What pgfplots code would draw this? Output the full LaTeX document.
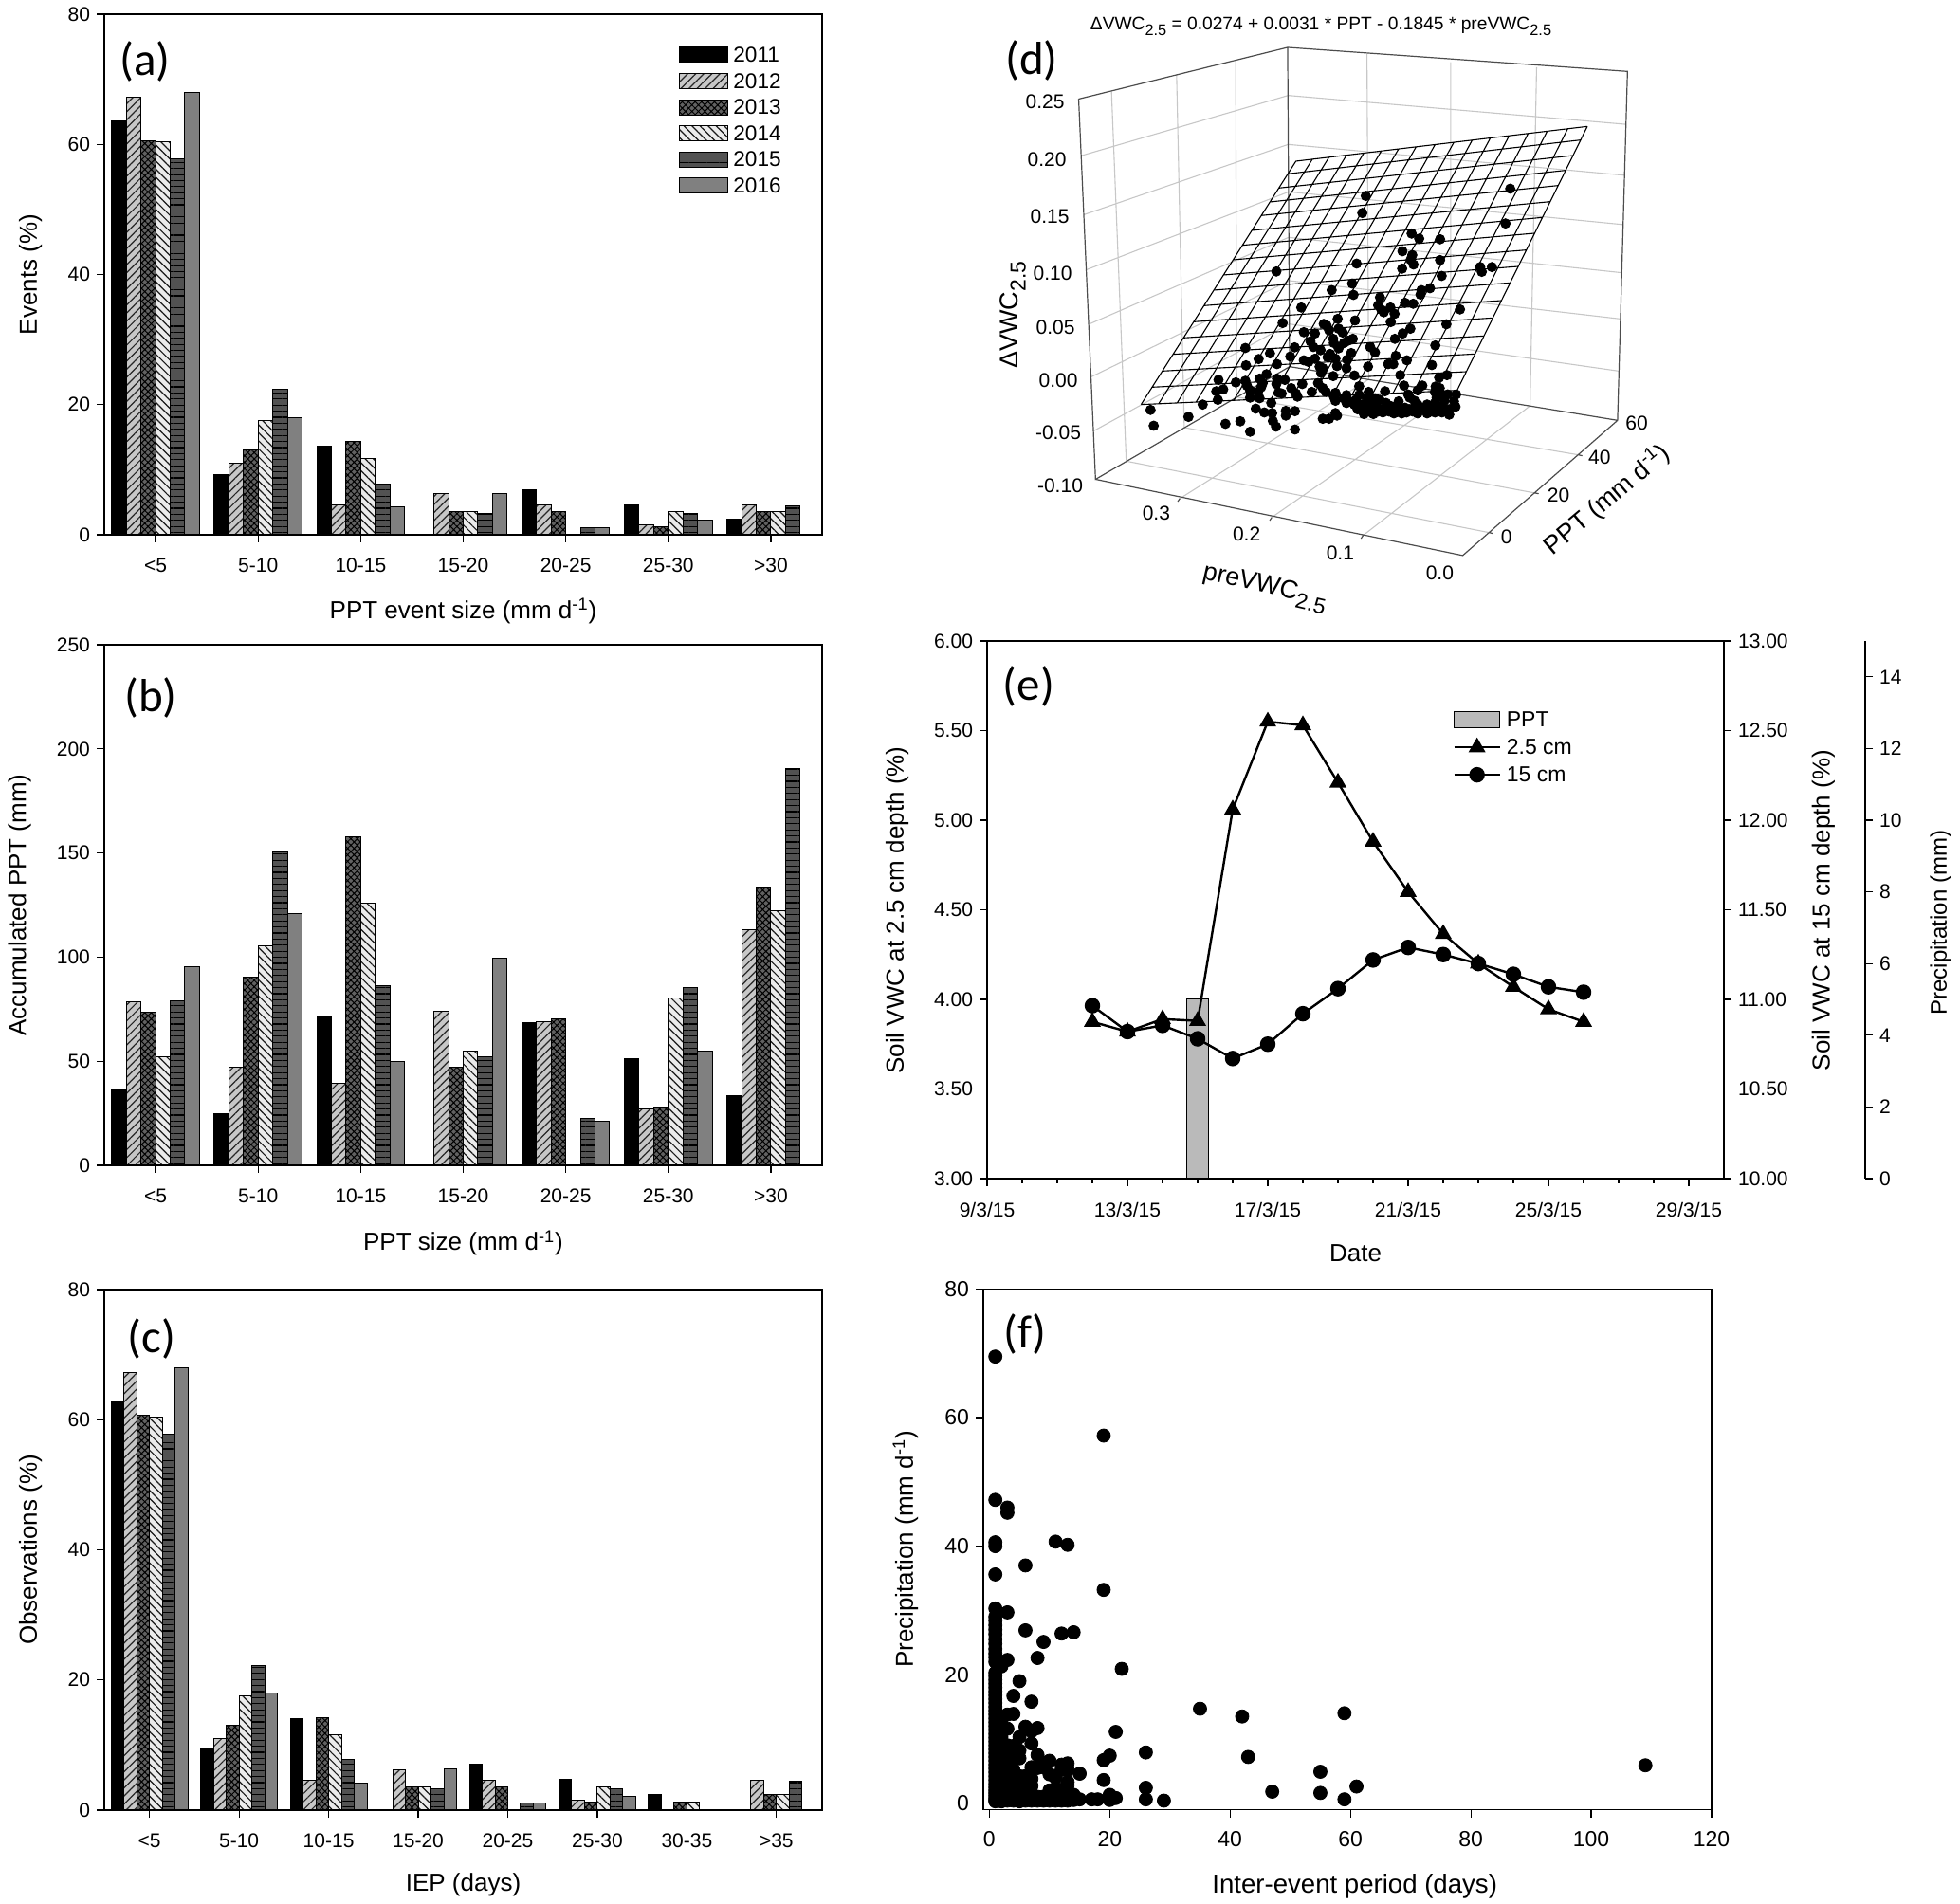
\documentclass[border=0pt]{standalone}
\usepackage{fontspec}
\setmainfont{Liberation Sans}
\newfontfamily\lab{Carlito}
\usepackage{pgfplots}
\pgfplotsset{compat=1.18}
\usetikzlibrary{patterns.meta}
\newcommand\lsub[1]{\raisebox{-.3em}{\scalebox{.85}{#1}}}
\newcommand\fs[1]{\fontsize{#1}{#1}\selectfont}
\tikzset{
 s11/.style={draw=black,fill=black},
 s12/.style={draw=black,fill=black!22,postaction={pattern={Lines[angle=45,distance=3pt,line width=.6pt]},pattern color=black!85}},
 s13/.style={draw=black,fill=black!62,postaction={pattern={Hatch[angle=45,distance=2.4pt,line width=.5pt]},pattern color=black}},
 s14/.style={draw=black,fill=black!8,postaction={pattern={Lines[angle=-45,distance=3pt,line width=.6pt]},pattern color=black!90}},
 s15/.style={draw=black,fill=black!68,postaction={pattern={Lines[angle=0,distance=3.2pt,line width=.6pt]},pattern color=black}},
 s16/.style={draw=black,fill=black!50},
}
\pgfplotsset{
 base/.style={scale only axis,clip=false,axis line style={line width=.75pt},
  tick style={black,line width=.6pt},major tick length=4pt,minor tick length=2.5pt,tick align=outside,
  xtick pos=bottom,ytick pos=left,
  /pgf/number format/assume math mode=true,
  tick label style={font=\fs{10.5}},
  label style={font=\fs{13}}},
 barax/.style={base,width=378.5pt,height=274.5pt,ymin=0,ybar=0pt,bar width=0.1428,
  every axis plot/.append style={line width=.5pt},
  xticklabel style={yshift=-5pt},
  xtick style={},ymajorgrids=false},
}
\begin{document}
\begin{tikzpicture}
\path[use as bounding box] (0,0) rectangle (1033.5pt,1004pt);
% ---------- (a)
\begin{axis}[barax,at={(55pt,722pt)},anchor=south west,xmin=-.5,xmax=6.5,ymax=80,
 xtick={0,...,6},xticklabels={<5,5-10,10-15,15-20,20-25,25-30,>30},ytick={0,20,...,80},
 ylabel={Events (\%)},xlabel={PPT event size (mm d\textsuperscript{-1})},
 xlabel style={at={(axis description cs:.5,-.1465)},anchor=center},
 ylabel style={at={(axis description cs:-.103,.5)},anchor=center},
 legend cell align=left,
 legend image code/.code={\draw[#1] (0pt,-4pt) rectangle (25.5pt,4pt);\path (27pt,0pt);},
 legend style={draw=none,fill=none,inner sep=0pt,at={(.8005,.94)},anchor=north west,font=\fs{11.3},row sep=4.2pt,
  nodes={inner sep=1pt,text height=7.6pt,text depth=0pt}}]
\addplot[s11] coordinates {(0,63.6)(1,9.2)(2,13.6)(4,6.85)(5,4.6)(6,2.4)};
\addplot[s12] coordinates {(0,67.2)(1,10.95)(2,4.65)(3,6.3)(4,4.65)(5,1.6)(6,4.65)};
\addplot[s13] coordinates {(0,60.6)(1,13.1)(2,14.4)(3,3.55)(4,3.55)(5,1.2)(6,3.55)};
\addplot[s14] coordinates {(0,60.4)(1,17.5)(2,11.7)(3,3.5)(5,3.55)(6,3.5)};
\addplot[s15] coordinates {(0,57.8)(1,22.3)(2,7.8)(3,3.3)(4,1.15)(5,3.3)(6,4.5)};
\addplot[s16] coordinates {(0,68)(1,18)(2,4.3)(3,6.4)(4,1.1)(5,2.2)};
\legend{2011,2012,2013,2014,2015,2016}
\end{axis}
% ---------- (b)
\begin{axis}[barax,at={(55pt,389.5pt)},anchor=south west,xmin=-.5,xmax=6.5,ymax=250,
 xtick={0,...,6},xticklabels={<5,5-10,10-15,15-20,20-25,25-30,>30},ytick={0,50,...,250},
 ylabel={Accumulated PPT (mm)},xlabel={PPT size (mm d\textsuperscript{-1})},
 xlabel style={at={(axis description cs:.5,-.149)},anchor=center},
 ylabel style={at={(axis description cs:-.118,.5)},anchor=center}]
\addplot[s11] coordinates {(0,36.8)(1,25)(2,71.9)(4,68.4)(5,51)(6,33.3)};
\addplot[s12] coordinates {(0,78.6)(1,46.9)(2,39.4)(3,74)(4,68.8)(5,27.2)(6,113)};
\addplot[s13] coordinates {(0,73.5)(1,90.4)(2,157.8)(3,46.9)(4,70.5)(5,28.2)(6,133.8)};
\addplot[s14] coordinates {(0,52.2)(1,105.4)(2,126)(3,54.8)(5,80.2)(6,122.3)};
\addplot[s15] coordinates {(0,78.8)(1,150.5)(2,86.3)(3,52)(4,22.7)(5,85.3)(6,190.5)};
\addplot[s16] coordinates {(0,95.2)(1,120.8)(2,49.8)(3,99.3)(4,21.3)(5,55)};
\end{axis}
% ---------- (c)
\begin{axis}[barax,at={(55pt,49.5pt)},anchor=south west,xmin=-.505,xmax=7.51,ymax=80,
 xtick={0,...,7},xticklabels={<5,5-10,10-15,15-20,20-25,25-30,30-35,>35},ytick={0,20,...,80},
 ylabel={Observations (\%)},xlabel={IEP (days)},
 xlabel style={at={(axis description cs:.5,-.143)},anchor=center},
 ylabel style={at={(axis description cs:-.103,.5)},anchor=center}]
\addplot[s11] coordinates {(0,62.8)(1,9.4)(2,14)(4,7)(5,4.7)(6,2.35)};
\addplot[s12] coordinates {(0,67.2)(1,11)(2,4.65)(3,6.25)(4,4.65)(5,1.55)(7,4.65)};
\addplot[s13] coordinates {(0,60.7)(1,13.1)(2,14.25)(3,3.6)(4,3.6)(5,1.25)(6,1.25)(7,2.35)};
\addplot[s14] coordinates {(0,60.4)(1,17.5)(2,11.6)(3,3.5)(5,3.55)(6,1.25)(7,2.35)};
\addplot[s15] coordinates {(0,57.8)(1,22.2)(2,7.8)(3,3.35)(4,1.15)(5,3.35)(7,4.45)};
\addplot[s16] coordinates {(0,68)(1,18)(2,4.2)(3,6.4)(4,1.05)(5,2.15)};
\end{axis}
% ---------- (d) drawn in a flat axis whose units are thirds of a picture pixel
\begin{axis}[scale only axis,hide axis,clip=false,at={(550pt,764pt)},anchor=south west,width=250pt,height=175pt,
 xmin=0,xmax=1500,ymin=0,ymax=1050,y dir=reverse,unbounded coords=jump]
\addplot[black!22,line width=.55pt] coordinates {
 (123,102)(775.5,-88)(1843.6,3.4)(nan,nan)
 (130,289)(775.5,67)(1840,164.6)(nan,nan)
 (138.5,463)(777,217)(1835,320.6)(nan,nan)
 (147,635)(777,361)(1831.5,473)(nan,nan)
 (150.7,803)(779,498)(1826,619)(nan,nan)
 (159,974)(779,635)(1821,784)(nan,nan)
 (216.4,-103.2)(263,1069)(1410.8,1295)(nan,nan)
 (422.4,-155)(446.7,962.8)(1554.5,1169.6)(nan,nan)
 (609.4,-201)(612.8,866)(1693,1049)(nan,nan)
 (1024.8,-218.7)(1030,810.5)(432.8,1187.4)(nan,nan)
 (1289.7,-193)(1289.7,853.6)(723.6,1247)(nan,nan)
 (1561.4,-177)(1540.7,894)(1012.7,1304)(nan,nan)
};
\addplot[black!70,line width=.6pt] coordinates {
 (112.6,-76.6)(166,1126.5)(780,770)(1817.6,940)(1849,-164)(773.8,-240)(112.6,-76.6)(nan,nan)
 (773.8,-240)(780,770)(nan,nan)
 (166,1126.5)(1327.7,1367.6)(1817.6,940)(nan,nan)
 (432.8,1187.4)(426,1197)(nan,nan)(723.6,1247)(717,1257)(nan,nan)(1012.7,1304)(1006,1314)(nan,nan)
 (1410.8,1295)(1424,1298)(nan,nan)(1554.5,1169.6)(1568,1172)(nan,nan)(1693,1049)(1706,1052)(nan,nan)
};
\addplot[black,line width=.55pt] coordinates {
 (800,120)(1722,10)(nan,nan)(774.5,160)(1701,53)(nan,nan)(746,205)(1677,102)(nan,nan)(718,249)(1653,149)(nan,nan)
 (690,292)(1630,197)(nan,nan)(660,339)(1605,248)(nan,nan)(631,386)(1580,298)(nan,nan)(602,432)(1555,348)(nan,nan)
 (571,480)(1529,401)(nan,nan)(540,528)(1504,453)(nan,nan)(509,577)(1478,505)(nan,nan)(477,628)(1450,561)(nan,nan)
 (444,679)(1423,616)(nan,nan)(411,731)(1395,673)(nan,nan)(378,784)(1367,730)(nan,nan)(345,835)(1339,786)(nan,nan)
 (310,890)(1310,845)(nan,nan)
 (800,120)(310,890)(nan,nan)(852,114)(366,887)(nan,nan)(905,107)(424,885)(nan,nan)(960,101)(484,882)(nan,nan)
 (1015,94)(543,880)(nan,nan)(1070,88)(603,877)(nan,nan)(1125,81)(662,874)(nan,nan)(1180,75)(722,871)(nan,nan)
 (1240,68)(787,869)(nan,nan)(1300,60)(852,866)(nan,nan)(1358,53)(915,863)(nan,nan)(1415,47)(977,860)(nan,nan)
 (1475,39)(1042,857)(nan,nan)(1535,32)(1107,854)(nan,nan)(1595,25)(1172,851)(nan,nan)(1660,17)(1243,848)(nan,nan)
 (1722,10)(1310,845)(nan,nan)
};
\addplot[only marks,mark=*,mark size=2.5pt,black] coordinates {
(1478,207)(1463,317)(1383,455)(1388,470)(1420,455)(1021,230)(1010,284)(1166,349)(1190,365)(1256,367)(1137,405)(1168,417)
(1163,432)(1256,433)(1172,447)(1136,460)(992,444)(738,469)(1261,483)(978,507)(913,528)(1224,522)(1197,528)(1194,542)
(982,543)(1066,551)(1060,576)(1145,568)(1171,571)(1099,583)(817,583)(1070,590)(1078,598)(1112,603)(1319,589)(758,632)
(1100,629)(987,624)(932,619)(1276,636)(1162,650)(1138,665)(888,635)(897,640)(905,655)(935,650)(948,662)(825,661)
(860,665)(918,682)(980,682)(965,688)(952,695)(1113,682)(846,690)(855,708)(920,695)(935,712)(1241,703)(1035,708)
(1050,725)(640,711)(796,709)(878,718)(975,727)(718,728)(908,730)(900,740)(925,745)(682,746)(782,738)(1116,736)
(860,745)(825,750)(840,755)(962,748)(1151,750)(740,762)(642,766)(875,770)(885,775)(930,768)(960,775)(1028,770)
(1092,762)(1108,762)(1230,765)(880,790)(707,794)(918,800)(985,798)(1130,797)(1253,805)(1278,797)(555,812)(610,820)
(640,815)(685,808)(740,808)(765,812)(1000,832)(1142,830)(1200,830)(1242,833)(548,848)(570,842)(645,830)(695,822)
(655,845)(690,835)(738,825)(785,838)(820,825)(870,822)(885,838)(850,850)(895,850)(925,853)(960,860)(800,855)
(745,852)(755,855)(680,850)(1030,850)(1082,848)(1155,858)(1185,845)(1245,850)(1280,858)(1307,858)(553,875)(655,868)
(685,870)(505,890)(805,865)(925,878)(970,880)(1000,860)(1025,870)(1065,875)(1160,868)(1175,878)(1215,890)(1245,868)
(1270,878)(722,885)(985,890)(1010,890)(1045,885)(1085,885)(1125,880)(1100,895)(1185,890)(1240,885)(1305,897)(673,903)
(340,907)(995,905)(1020,905)(1040,905)(1070,905)(1110,905)(1130,910)(1160,905)(1185,905)(1215,905)(1240,905)(1285,905)
(700,915)(725,917)(768,910)(797,911)(460,929)(925,917)(1015,920)(1045,920)(1075,915)(1110,918)(1135,918)(1185,918)
(1215,918)(1240,915)(1285,922)(768,925)(885,935)(905,935)(930,925)(727,942)(624,943)(577,951)(350,957)(737,960)
(655,976)(797,969)
(1005,897)(1030,897)(1055,897)(1090,905)(1120,900)(1145,900)(1175,900)(1205,900)(1225,897)(1260,895)(1270,905)(1300,880)
(1030,912)(1060,912)(1095,912)(1150,915)(1170,912)(1230,912)(1262,915)(960,885)(950,870)(990,875)(1050,870)(1240,850)
(1255,838)(1265,860)(920,865)};
\end{axis}
% ---------- (e)
\begin{axis}[base,at={(520.5pt,382.5pt)},anchor=south west,width=463pt,height=283.5pt,xmin=9,xmax=34.02,ymin=0,ymax=15,
 axis x line=none,axis y line*=right,ytick pos=right,ytick={0,2,...,14},ybar,bar width=.6,
 ylabel={Precipitation (mm)},
 ylabel style={at={(axis description cs:1.086,.476)},anchor=center,font=\fs{12}}]
\addplot[draw=black,fill=black!27,line width=.5pt] coordinates {(15,5)};
\end{axis}
\begin{axis}[base,at={(520.5pt,382.5pt)},anchor=south west,width=388.5pt,height=283.5pt,xmin=9,xmax=30,ymin=3,ymax=6,
 xtick={9,13,17,21,25,29},xticklabels={9/3/15,13/3/15,17/3/15,21/3/15,25/3/15,29/3/15},minor x tick num=3,
 ytick={3,3.5,...,6},yticklabel style={/pgf/number format/.cd,fixed,fixed zerofill,precision=2},
 xticklabel style={yshift=-5pt},
 xlabel={Date},ylabel={Soil VWC at 2.5 cm depth (\%)},
 xlabel style={at={(axis description cs:.5,-.139)},anchor=center},
 ylabel style={at={(axis description cs:-.122,.499)},anchor=center}]
\addplot[black,line width=1.2pt,mark=triangle*,mark size=4pt] coordinates {
(12,3.875)(13,3.82)(14,3.89)(15,3.88)(16,5.06)(17,5.55)(18,5.53)(19,5.21)(20,4.88)(21,4.60)(22,4.365)(23,4.20)(24,4.07)(25,3.945)(26,3.875)};
\end{axis}
\begin{axis}[base,at={(520.5pt,382.5pt)},anchor=south west,width=388.5pt,height=283.5pt,xmin=9,xmax=30,ymin=10,ymax=13,
 axis x line=none,axis y line*=right,ytick pos=right,ytick={10,10.5,...,13},
 yticklabel style={/pgf/number format/.cd,fixed,fixed zerofill,precision=2},
 ylabel={Soil VWC at 15 cm depth (\%)},
 ylabel style={at={(axis description cs:1.135,.499)},anchor=center},
 legend cell align=left,
 legend image code/.code={\draw[#1,mark repeat=2,mark phase=2] plot coordinates {(0pt,0pt)(12pt,0pt)(24pt,0pt)};\path (26pt,0pt);},
 legend style={draw=none,fill=none,inner sep=0pt,at={(.632,.871)},anchor=north west,font=\fs{11.5},row sep=4.9pt,
  nodes={inner sep=1pt,text height=7.6pt,text depth=0pt}}]
\addlegendimage{legend image code/.code={\draw[draw=black,fill=black!27,line width=.5pt] (0pt,-4pt) rectangle (24pt,4.5pt);\path (26pt,0pt);}}
\addlegendentry{PPT}
\addlegendimage{black,line width=1.2pt,mark=triangle*,mark size=4pt}
\addlegendentry{2.5 cm}
\addplot[black,line width=1.2pt,mark=*,mark size=3.5pt] coordinates {
(12,10.965)(13,10.82)(14,10.855)(15,10.78)(16,10.67)(17,10.75)(18,10.92)(19,11.06)(20,11.22)(21,11.29)(22,11.25)(23,11.2)(24,11.14)(25,11.07)(26,11.04)};
\addlegendentry{15 cm}
\end{axis}
% ---------- (f)
\begin{axis}[base,at={(518.5pt,49.75pt)},anchor=south west,width=384pt,height=274.5pt,xmin=-1,xmax=120,ymin=-1,ymax=80,
 xtick={0,20,...,120},ytick={0,20,...,80},tick label style={font=\fs{11.5}},
 xticklabel style={yshift=-4pt},
 xlabel={Inter-event period (days)},ylabel={Precipitation (mm d\textsuperscript{-1})},
 xlabel style={at={(axis description cs:.51,-.147)},anchor=center,font=\fs{13.8}},
 ylabel style={at={(axis description cs:-.107,.5)},anchor=center}]
\addplot[only marks,mark=*,mark size=3.5pt,black] coordinates {
(1,.3)(1,.5)(1,.8)(1,1.2)(1,1.6)(1,2)(1,2.5)(1,3)(1,3.6)(1,4.2)(1,4.8)(1,5.4)(1,6)(1,6.6)(1,7.2)(1,7.8)(1,8.4)(1,9)(1,9.6)
(1,10.2)(1,10.8)(1,11.4)(1,12)(1,12.6)(1,13.2)(1,13.8)(1,14.4)(1,15)(1,15.6)(1,16.2)(1,16.8)(1,17.4)(1,18)(1,18.6)(1,19.2)(1,19.8)
(1,20.3)(1,22)(1,22.7)(1,23.3)(1,24)(1,24.8)(1,25.5)(1,26.3)(1,27)(1,27.7)(1,28.4)(1,29)(1,30.3)(1,35.6)(1,40)(1,40.6)(1,47.2)(1,69.5)
(2,.3)(2,.8)(2,1.3)(2,2)(2,2.8)(2,3.5)(2,4.3)(2,5)(2,5.8)(2,6.6)(2,7.3)(2,8)(2,8.8)(2,9.5)(2,10.3)(2,11)(2,12)(2,13)(2,21.3)
(3,.4)(3,1)(3,1.8)(3,2.6)(3,3.4)(3,4.2)(3,5)(3,5.8)(3,6.5)(3,7.2)(3,8)(3,9)(3,11.6)(3,13.8)(3,22.3)(3,29.7)(3,45.2)(3,46)
(4,.4)(4,1)(4,2)(4,3)(4,4)(4,5.2)(4,7)(4,8.9)(4,13.9)(4,16.7)
(5,.3)(5,1)(5,2)(5,3)(5,4.2)(5,7)(5,8.2)(5,10.3)(5,19)
(6,.4)(6,1.2)(6,2.3)(6,3.6)(6,4.2)(6,11.9)(6,26.9)(6,37)
(7,.4)(7,1.5)(7,2.7)(7,3.8)(7,5.6)(7,9.3)(7,11.2)(7,15.8)
(8,.4)(8,1)(8,5.5)(8,7.5)(8,11.7)(8,22.6)
(9,.4)(9,1)(9,5.6)(9,6.3)(9,25.1)
(10,.4)(10,1.2)(10,2)(10,4.5)(10,6.6)
(11,.4)(11,1.5)(11,2.3)(11,4)(11,40.7)
(12,.4)(12,1)(12,2.1)(12,5.2)(12,6)(12,26.4)
(13,.4)(13,1.2)(13,2.8)(13,3.3)(13,5.2)(13,6.2)(13,40.2)
(14,.5)(14,1.3)(14,26.6)(15,.6)(15,4.6)(17,.6)(18,.6)
(19,3.6)(19,6.7)(19,33.2)(19,57.2)(20,.5)(20,1.3)(20,7.4)(21,.8)(21,11.1)(22,20.9)
(26,.6)(26,2.4)(26,7.9)(29,.4)(35,14.7)(42,13.5)(43,7.2)(47,1.8)(55,1.6)(55,4.9)(59,.6)(59,14)(61,2.6)(109,5.9)};
\end{axis}
% ---------- text of (d) and panel letters
\begin{scope}[x=1pt,y=1pt,every node/.style={font=\fs{10.5},inner sep=0pt}]
\node at (551,950.5) {0.25};\node at (552,919.8) {0.20};\node at (553.5,889.7) {0.15};\node at (555,860.1) {0.10};
\node at (556.5,831.5) {0.05};\node at (558,803.4) {0.00};\node at (558,775.9) {-0.05};\node at (559,748) {-0.10};
\node at (609.7,733.2) {0.3};\node at (657.3,722.6) {0.2};\node at (706.7,712.6) {0.1};\node at (759.2,702) {0.0};
\node at (794.4,721.1) {0};\node at (821.8,743.1) {20};\node at (843.4,762.8) {40};\node at (863,780.8) {60};
\node[rotate=90,font=\fs{13.5}] at (534.1,837.9) {ΔVWC\lsub{2.5}};
\node[rotate=-13,font=\fs{13.5}] at (666.9,694) {preVWC\lsub{2.5}};
\node[rotate=40,font=\fs{13.5}] at (847.2,740.6) {PPT (mm d\textsuperscript{-1})};
\node[font=\fs{9.6}] at (696.5,990) {ΔVWC\lsub{2.5} = 0.0274 + 0.0031 * PPT - 0.1845 * preVWC\lsub{2.5}};
\node[font=\lab\fs{24.5}] at (76.5,971.5) {(a)};
\node[font=\lab\fs{24.5}] at (79.5,636) {(b)};
\node[font=\lab\fs{24.5}] at (80,298) {(c)};
\node[font=\lab\fs{24.5}] at (544,972) {(d)};
\node[font=\lab\fs{24.5}] at (542.5,642) {(e)};
\node[font=\lab\fs{24.5}] at (540.5,300.5) {(f)};
\end{scope}
\end{tikzpicture}
\end{document}
